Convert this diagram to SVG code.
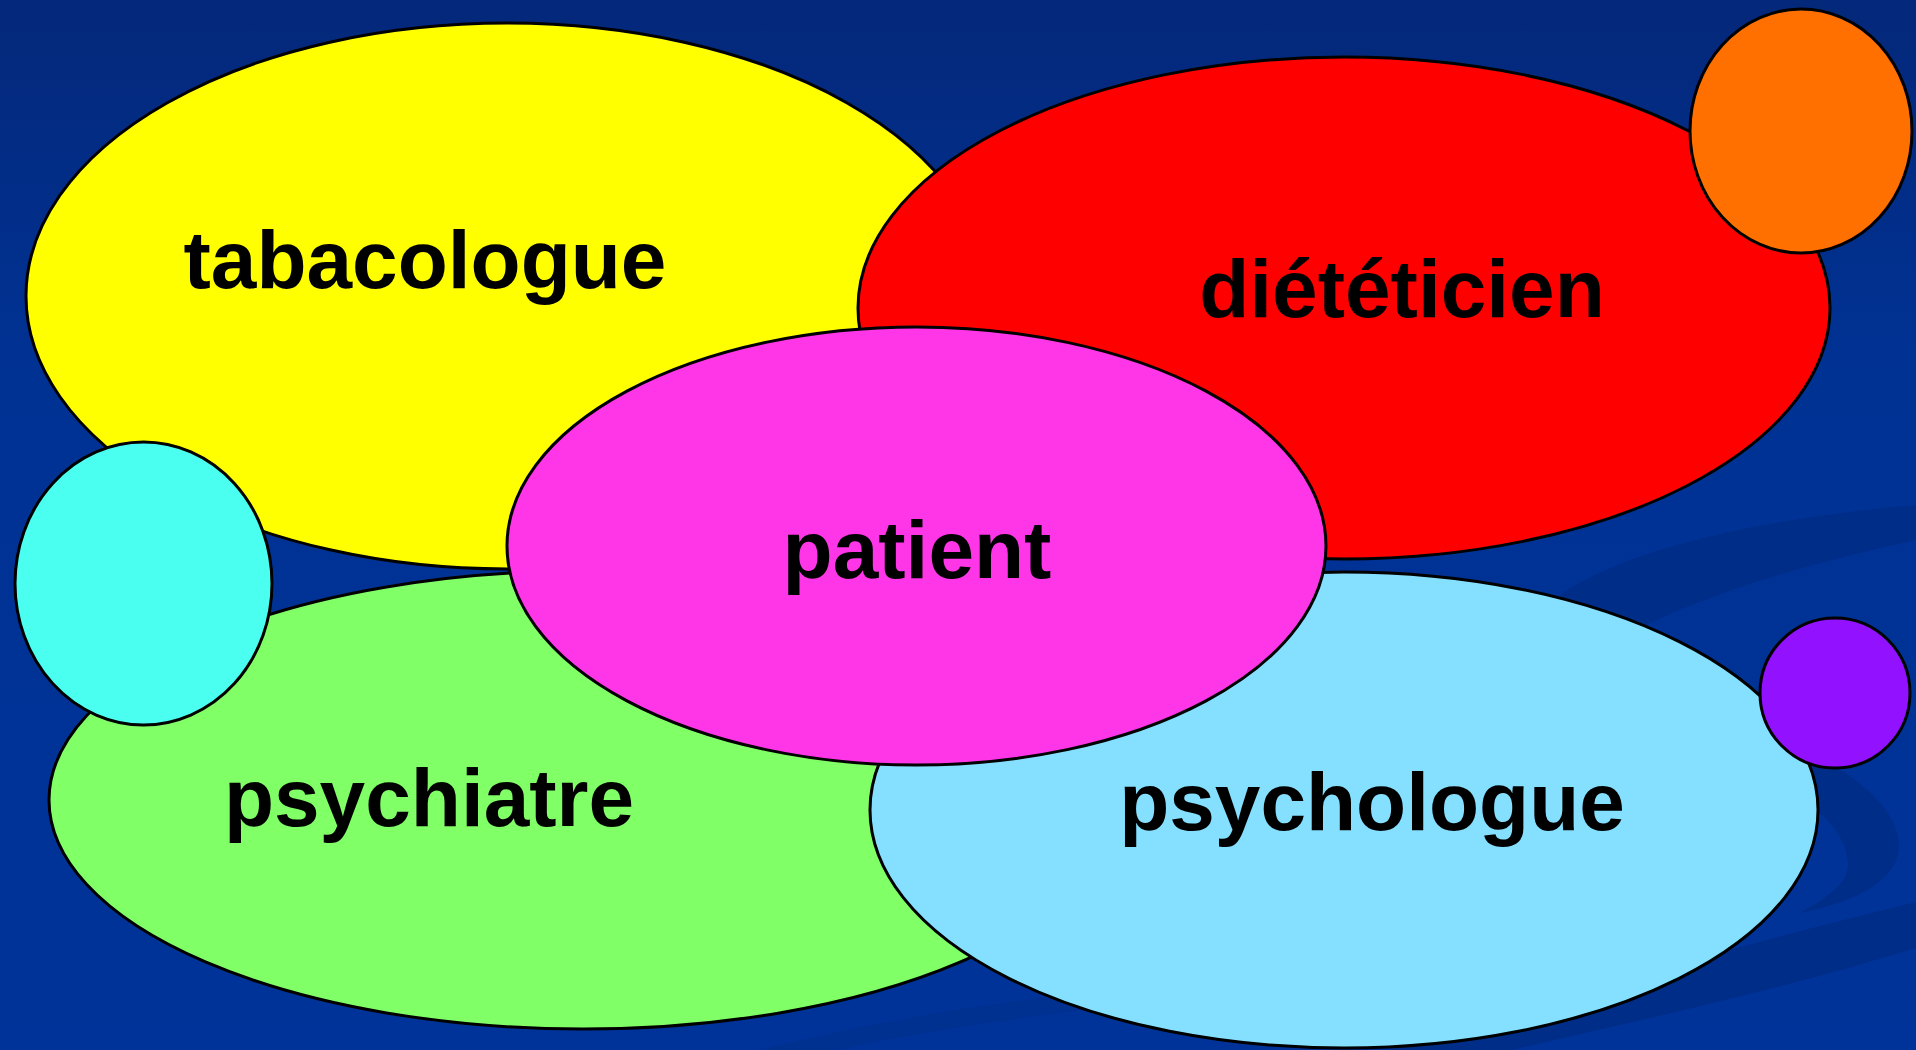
<svg xmlns="http://www.w3.org/2000/svg" width="1916" height="1050" viewBox="0 0 1916 1050">
  <defs>
    <linearGradient id="bg" x1="0" y1="0" x2="0" y2="1">
      <stop offset="0" stop-color="#04287a"/>
      <stop offset="0.35" stop-color="#003294"/>
      <stop offset="1" stop-color="#003399"/>
    </linearGradient>
  </defs>
  <style>
    .shape { stroke: #000000; stroke-width: 3; }
    .label { font-family: "Liberation Sans", Arial, sans-serif; font-weight: bold; font-size: 82px; fill: #000000; text-anchor: middle; }
    .swoosh { fill: #002d88; }
  </style>

  <rect x="0" y="0" width="1916" height="1050" fill="url(#bg)"/>

  <g id="background-swooshes">
    <path class="swoosh" d="M1916,505 C1800,515 1640,540 1560,595 L1600,650 C1680,600 1800,565 1916,540 Z"/>
    <path class="swoosh" d="M1780,740 C1870,775 1905,820 1898,855 C1890,888 1840,905 1800,913 C1832,895 1850,880 1848,862 C1845,830 1815,800 1760,780 Z"/>
    <path class="swoosh" d="M1916,902 L1916,948 C1780,990 1640,1020 1512,1050 L1390,1050 C1560,995 1740,945 1916,902 Z"/>
    <path class="swoosh" d="M760,1050 C880,1020 1000,1000 1120,990 L1130,1005 C1010,1018 900,1035 840,1050 Z" opacity="0.5"/>
  </g>

  <g id="node-tabacologue">
    <ellipse class="shape" cx="507" cy="296" rx="481" ry="273" fill="#ffff00"/>
    <text class="label" x="425" y="288">tabacologue</text>
  </g>

  <g id="node-dieteticien">
    <ellipse class="shape" cx="1344" cy="308" rx="486" ry="251" fill="#ff0000"/>
    <text class="label" x="1402" y="317">diététicien</text>
  </g>

  <g id="node-orange">
    <ellipse class="shape" cx="1801" cy="131" rx="111" ry="122" fill="#ff7000"/>
  </g>

  <g id="node-psychiatre">
    <ellipse class="shape" cx="583" cy="800" rx="534" ry="229" fill="#80ff66"/>
    <text class="label" x="429" y="826">psychiatre</text>
  </g>

  <g id="node-psychologue">
    <ellipse class="shape" cx="1344" cy="810" rx="474" ry="238" fill="#85e0ff"/>
    <text class="label" x="1372" y="830">psychologue</text>
  </g>

  <g id="node-purple">
    <circle class="shape" cx="1835" cy="693" r="75" fill="#9211ff"/>
  </g>

  <g id="node-cyan">
    <ellipse class="shape" cx="143.5" cy="583.5" rx="128.5" ry="141.5" fill="#4affef"/>
  </g>

  <g id="node-patient">
    <ellipse class="shape" cx="916.5" cy="546" rx="409.5" ry="219" fill="#ff36e8"/>
    <text class="label" x="917" y="578">patient</text>
  </g>

  <g id="connectors"></g>
</svg>
